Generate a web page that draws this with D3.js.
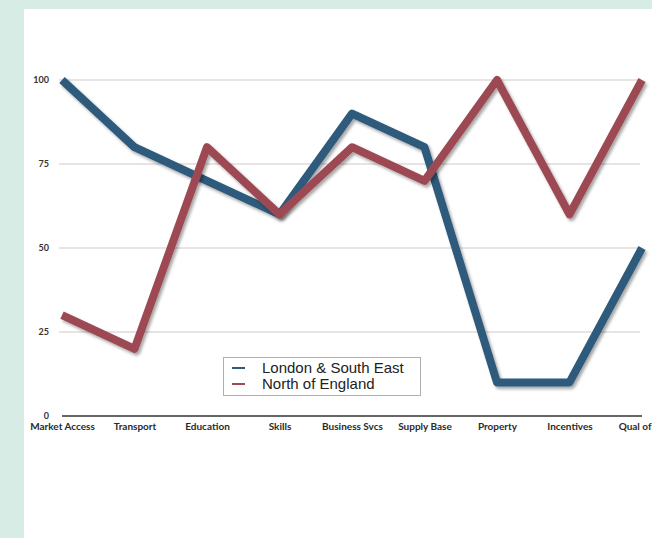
<!DOCTYPE html>
<html>
<head>
<meta charset="utf-8">
<script src="https://cdn.jsdelivr.net/npm/d3@7"></script>
<style>
  html, body { margin: 0; padding: 0; background: #d6ece5; }
  svg { display: block; overflow: hidden; }
</style>
</head>
<body>
<svg id="chart" width="652" height="538"></svg>
<script>
// Location factor scores (0-100) by region
const categories = ["Market Access", "Transport", "Education", "Skills", "Business Svcs",
                    "Supply Base", "Property", "Incentives", "Qual of"];
const londonSouthEast = [100, 80, 70, 60, 90, 80, 10, 10, 50];
const northOfEngland  = [30, 20, 80, 60, 80, 70, 100, 60, 100];
const yTicks = [0, 25, 50, 75, 100];

const series = [
  { name: "London & South East", values: londonSouthEast, color: "#2d5a7c" },
  { name: "North of England",    values: northOfEngland,  color: "#9c4a53" }
];

const svg = d3.select("#chart");
const W = 652, H = 538;

// white panel on the mint page
svg.append("rect").attr("x", 0).attr("y", 0).attr("width", W).attr("height", H).attr("fill", "#d6ece5");
svg.append("rect").attr("x", 24).attr("y", 9).attr("width", W - 24).attr("height", H - 9).attr("fill", "#ffffff");

const defs = svg.append("defs");
const f = defs.append("filter").attr("id", "shadow")
  .attr("x", "-10%").attr("y", "-10%").attr("width", "120%").attr("height", "120%");
f.append("feDropShadow").attr("dx", 2).attr("dy", 2.5).attr("stdDeviation", 1.8)
  .attr("flood-color", "#000").attr("flood-opacity", 0.35);

const x = d3.scalePoint().domain(categories).range([62, 642]);
const y = d3.scaleLinear().domain([0, 100]).range([416, 80]);

// horizontal gridlines
svg.append("g").selectAll("line").data(yTicks.filter(d => d > 0)).join("line")
  .attr("x1", 59).attr("x2", 640)
  .attr("y1", d => y(d)).attr("y2", d => y(d))
  .attr("stroke", "#d3c7c7").attr("stroke-width", 1.2);

// y axis labels
const yAxis = svg.append("g").attr("transform", "translate(50,0)")
  .call(d3.axisLeft(y).tickValues(yTicks).tickSize(0).tickPadding(1));
yAxis.select(".domain").remove();
yAxis.selectAll("text")
  .attr("font-family", "Lato, 'DejaVu Sans', sans-serif")
  .attr("font-size", 9).attr("font-weight", 700).attr("fill", "#333");

// baseline
svg.append("line").attr("x1", 62).attr("x2", 642).attr("y1", y(0)).attr("y2", y(0))
  .attr("stroke", "#333").attr("stroke-width", 1.5);

// x axis labels
const xAxis = svg.append("g").attr("transform", `translate(0,${y(0)})`)
  .call(d3.axisBottom(x).tickSize(0).tickPadding(7));
xAxis.select(".domain").remove();
xAxis.selectAll("text")
  .attr("font-family", "Lato, 'DejaVu Sans', sans-serif")
  .attr("font-size", 10).attr("font-weight", 700).attr("fill", "#2a2a2a");
// keep the last label inside the right edge
xAxis.selectAll("text").filter(d => d === categories[categories.length - 1])
  .attr("text-anchor", "end").attr("x", W - 1 - x(categories[categories.length - 1]));

// series lines
const line = d3.line().x((d, i) => x(categories[i])).y(d => y(d));
svg.append("g").selectAll("path").data(series).join("path")
  .attr("d", d => line(d.values))
  .attr("fill", "none")
  .attr("stroke", d => d.color)
  .attr("stroke-width", 8)
  .attr("stroke-linejoin", "round")
  .attr("stroke-linecap", "butt")
  .attr("filter", "url(#shadow)");

// legend
const lg = svg.append("g");
lg.append("rect").attr("x", 223.5).attr("y", 357.5).attr("width", 197).attr("height", 38)
  .attr("fill", "#fff").attr("stroke", "#b0b0b0").attr("stroke-width", 1);
const items = lg.selectAll("g.item").data(series).join("g")
  .attr("class", "item")
  .attr("transform", (d, i) => `translate(0,${368 + i * 16})`);
items.append("line").attr("x1", 232).attr("x2", 245).attr("y1", 0).attr("y2", 0)
  .attr("stroke", d => d.color).attr("stroke-width", 2);
items.append("text").attr("x", 262).attr("y", 5)
  .attr("font-family", "'Liberation Sans', Arial, sans-serif").attr("font-size", 15)
  .attr("fill", "#222").text(d => d.name);
</script>
</body>
</html>
